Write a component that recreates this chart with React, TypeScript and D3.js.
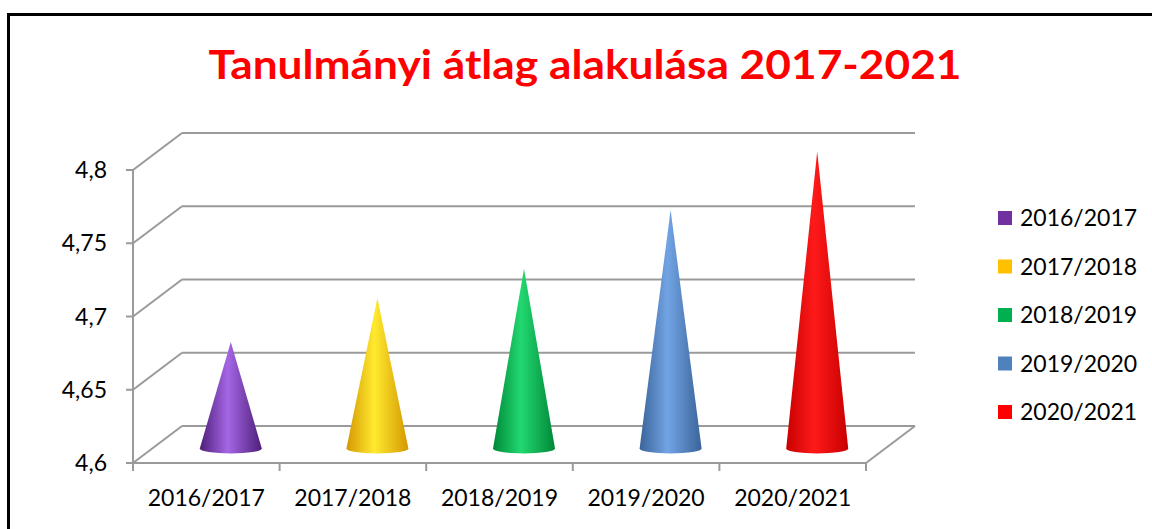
import React from "react";
import { scaleBand, scaleLinear } from "d3";

const categories = ["2016/2017", "2017/2018", "2018/2019", "2019/2020", "2020/2021"];
const values = [4.67, 4.7, 4.72, 4.76, 4.8];
const yTicks = [4.6, 4.65, 4.7, 4.75, 4.8];
const colors = ["#7030A0", "#FFC000", "#00B050", "#4F81BD", "#FF0000"];
const lights = ["#A566E6", "#FFEA30", "#22D870", "#72A4E4", "#FF1A1A"];
const darks = ["#4E1F78", "#D49800", "#008838", "#3A6399", "#C80000"];
const title = "Tanulmányi átlag alakulása 2017-2021";

const W = 1152;
const H = 529;
const font = "Lato, 'Open Sans', sans-serif";

export default function App() {
  const x = scaleBand<string>().domain(categories).range([133, 866]);
  const y = scaleLinear().domain([4.6, 4.8]).range([463, 170]);
  const dx = 49;
  const dy = -37;
  const rx = 31;
  const ry = 5;
  const grid = "#9a9a9a";

  return (
    <svg
      width={W}
      height={H}
      style={{ position: "absolute", left: 0, top: 0, background: "#fff" }}
    >
      <defs>
        {colors.map((c, i) => (
          <linearGradient key={i} id={`cone${i}`} x1="0" x2="1" y1="0" y2="0">
            <stop offset="0%" stopColor={darks[i]} />
            <stop offset="45%" stopColor={lights[i]} />
            <stop offset="100%" stopColor={darks[i]} />
          </linearGradient>
        ))}
      </defs>
      <rect x={8.5} y={14.5} width={W + 20} height={H + 20} fill="#fff" stroke="#000" strokeWidth={3} />

      <text
        x={585}
        y={79}
        textAnchor="middle"
        fill="#FF0000"
        fontFamily={font}
        fontWeight="bold"
        fontSize={41}
        textLength={753}
        lengthAdjust="spacingAndGlyphs"
      >
        {title}
      </text>

      {/* gridlines: back wall + side wall */}
      {yTicks.map((t) => (
        <g key={t}>
          <line x1={133} y1={y(t)} x2={133 + dx} y2={y(t) + dy} stroke={grid} strokeWidth={2} />
          <line x1={133 + dx} y1={y(t) + dy} x2={866 + dx} y2={y(t) + dy} stroke={grid} strokeWidth={2} />
          <line x1={126} y1={y(t)} x2={133} y2={y(t)} stroke={grid} strokeWidth={2} />
          <text
            x={107}
            y={y(t)}
            dy="0.35em"
            textAnchor="end"
            fontFamily={font}
            fontSize={23}
            fill="#000"
          >
            {String(t).replace(".", ",")}
          </text>
        </g>
      ))}
      {/* floor right edge */}
      <line x1={866} y1={y(4.6)} x2={866 + dx} y2={y(4.6) + dy} stroke={grid} strokeWidth={2} />
      {/* axes */}
      <line x1={133} y1={y(4.8)} x2={133} y2={y(4.6)} stroke={grid} strokeWidth={2} />
      <line x1={133} y1={y(4.6)} x2={866} y2={y(4.6)} stroke={grid} strokeWidth={2} />
      {[...categories.map((c) => x(c) as number), 866].map((p, i) => (
        <line key={i} x1={p} y1={y(4.6)} x2={p} y2={y(4.6) + 8} stroke={grid} strokeWidth={2} />
      ))}
      {categories.map((c) => (
        <text
          key={c}
          x={(x(c) as number) + x.bandwidth() / 2}
          y={506}
          textAnchor="middle"
          fontFamily={font}
          fontSize={23}
          fill="#000"
        >
          {c}
        </text>
      ))}

      {/* cones */}
      {categories.map((c, i) => {
        const cx = (x(c) as number) + x.bandwidth() / 2 + dx / 2;
        const yb = y(4.6) + dy / 2 + 4;
        const yt = y(values[i]) + dy / 2;
        const d = `M${cx - rx},${yb} L${cx},${yt} L${cx + rx},${yb} A${rx},${ry} 0 0 1 ${cx - rx},${yb} Z`;
        return <path key={c} d={d} fill={`url(#cone${i})`} />;
      })}

      {/* legend */}
      {categories.map((c, i) => (
        <g key={c} transform={`translate(998,${218 + i * 48.5})`}>
          <rect x={0} y={-7} width={14} height={14} fill={colors[i]} />
          <text x={22} y={0} dy="0.35em" fontFamily={font} fontSize={23} fill="#000">
            {c}
          </text>
        </g>
      ))}
    </svg>
  );
}
